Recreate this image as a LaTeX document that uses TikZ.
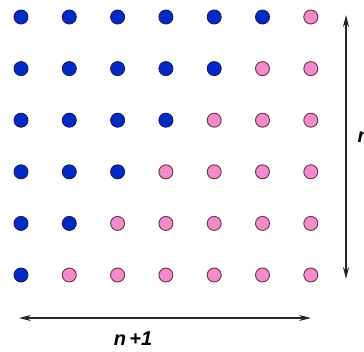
\documentclass[tikz,border=0pt]{standalone}
\usepackage{fontspec}
\setmainfont{Liberation Sans}
\usetikzlibrary{arrows.meta,positioning}
\definecolor{dotblue}{RGB}{5,40,200}
\definecolor{dotblueedge}{RGB}{20,30,110}
\definecolor{dotpink}{RGB}{242,140,200}
\definecolor{dotpinkedge}{RGB}{110,50,80}

\begin{document}
\begin{tikzpicture}[
		x=0.75pt, y=-0.75pt,
		>={Stealth[length=9pt,width=4.5pt]},
		bluedot/.style={circle, draw=dotblueedge, fill=dotblue, line width=0.7pt,
			minimum size=10.5pt, inner sep=0pt},
		pinkdot/.style={circle, draw=dotpinkedge, fill=dotpink, line width=0.7pt,
			minimum size=10.5pt, inner sep=0pt},
		arrow/.style={<->, line width=0.9pt, draw=black!85},
		label/.style={font=\bfseries\itshape\fontsize{15}{15}\selectfont}
		]
		
		\useasboundingbox (0,0) rectangle (364,351);
		
		% Dot grid: 7 columns, 6 rows, blue staircase top left
		\foreach \r in {1,...,6} {
			\foreach \c in {1,...,7} {
				\pgfmathtruncatemacro{\isblue}{\c <= 7-\r ? 1 : 0}
				\ifnum\isblue=1
					\node[bluedot] (d-\r-\c) at ({21+48.3*(\c-1)}, {17+51.6*(\r-1)}) {};
				\else
					\node[pinkdot] (d-\r-\c) at ({21+48.3*(\c-1)}, {17+51.6*(\r-1)}) {};
				\fi
			}
		}
		
		% Arrow ends
		\coordinate (vtop) at (346,15);
		\coordinate (vbot) at (346,279);
		\coordinate (hleft) at (19,318);
		\coordinate (hright) at (311,318);
		
		% Arrows
		\draw[arrow] (vtop) -- (vbot);
		\draw[arrow] (hleft) -- (hright);
		
		% Labels
		\node[label, anchor=west] (nlab) at (353,137) {n};
		\node[label] (nplus) at (133,339) {n\,+1};
		
	\end{tikzpicture}
\end{document}
